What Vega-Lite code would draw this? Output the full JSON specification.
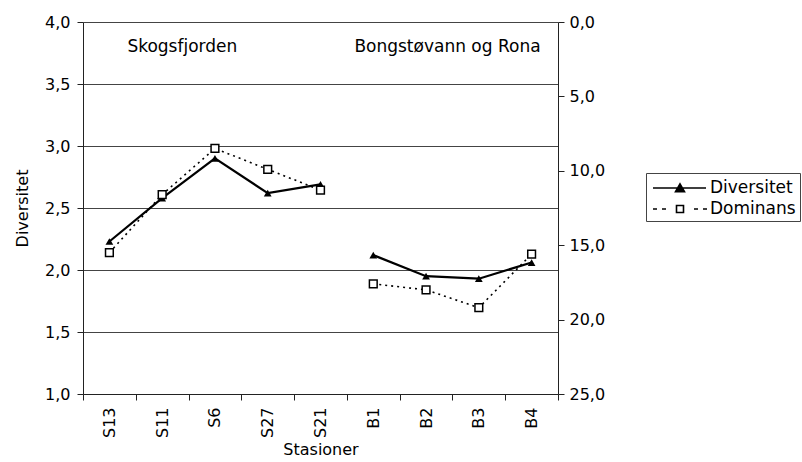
{
  "$schema": "https://vega.github.io/schema/vega-lite/v6.json",
  "width": 475,
  "height": 372,
  "autosize": "none",
  "padding": {"left": 83, "top": 22, "right": 244, "bottom": 68},
  "background": "white",
  "config": {
    "locale": {"number": {"decimal": ",", "thousands": " ", "grouping": [3], "currency": ["", " kr"]}},
    "font": "DejaVu Sans",
    "view": {"stroke": null},
    "axis": {"labelFont": "DejaVu Sans", "titleFont": "DejaVu Sans", "labelFontSize": 16, "titleFontSize": 16, "labelColor": "black", "titleColor": "black", "domainColor": "#222", "tickColor": "#222", "titleFontWeight": "normal"},
    "legend": {"labelFont": "DejaVu Sans", "labelFontSize": 16}
  },
  "datasets": {
    "series": [
      {"station": "S13", "grp": "S", "serie": "Diversitet", "value": 2.23},
      {"station": "S11", "grp": "S", "serie": "Diversitet", "value": 2.58},
      {"station": "S6", "grp": "S", "serie": "Diversitet", "value": 2.90},
      {"station": "S27", "grp": "S", "serie": "Diversitet", "value": 2.62},
      {"station": "S21", "grp": "S", "serie": "Diversitet", "value": 2.69},
      {"station": "B1", "grp": "B", "serie": "Diversitet", "value": 2.12},
      {"station": "B2", "grp": "B", "serie": "Diversitet", "value": 1.95},
      {"station": "B3", "grp": "B", "serie": "Diversitet", "value": 1.93},
      {"station": "B4", "grp": "B", "serie": "Diversitet", "value": 2.06},
      {"station": "S13", "grp": "S", "serie": "Dominans", "value": 15.5},
      {"station": "S11", "grp": "S", "serie": "Dominans", "value": 11.6},
      {"station": "S6", "grp": "S", "serie": "Dominans", "value": 8.5},
      {"station": "S27", "grp": "S", "serie": "Dominans", "value": 9.9},
      {"station": "S21", "grp": "S", "serie": "Dominans", "value": 11.3},
      {"station": "B1", "grp": "B", "serie": "Dominans", "value": 17.6},
      {"station": "B2", "grp": "B", "serie": "Dominans", "value": 18.0},
      {"station": "B3", "grp": "B", "serie": "Dominans", "value": 19.2},
      {"station": "B4", "grp": "B", "serie": "Dominans", "value": 15.6}
    ],
    "labels": [
      {"station": "S13", "value": 3.8, "text": "Skogsfjorden", "side": "left"},
      {"station": "B4", "value": 3.8, "text": "Bongstøvann og Rona", "side": "right"}
    ]
  },
  "encoding": {
    "x": {
      "field": "station", "type": "nominal", "sort": null,
      "scale": {"type": "band", "paddingInner": 0, "paddingOuter": 0, "domain": ["S13","S11","S6","S27","S21","B1","B2","B3","B4"]},
      "axis": {"title": "Stasioner", "labelAngle": -90, "tickBand": "extent", "tickSize": 6, "labelPadding": 7, "titlePadding": 4, "grid": false}
    }
  },
  "layer": [
    {
      "data": {"name": "series"},
      "transform": [{"filter": "datum.serie === 'Diversitet'"}],
      "encoding": {
        "y": {
          "field": "value", "type": "quantitative",
          "scale": {"domain": [1, 4], "nice": false, "zero": false},
          "axis": {"title": "Diversitet", "orient": "left", "values": [1, 1.5, 2, 2.5, 3, 3.5, 4], "format": ".1f", "grid": true, "gridColor": "#444", "gridWidth": 1, "gridOpacity": 1, "tickSize": 6, "labelPadding": 7, "titlePadding": 14}
        }
      },
      "layer": [
        {"mark": {"type": "line", "color": "black", "strokeWidth": 2.2}, "encoding": {"detail": {"field": "grp"}}},
        {"mark": {"type": "point", "shape": "triangle-up", "filled": true, "color": "black", "size": 60, "opacity": 1}},
        {
          "mark": {"type": "point", "opacity": 0, "size": 60, "filled": true, "strokeWidth": 1.6},
          "encoding": {
            "shape": {
              "field": "serie", "type": "nominal",
              "scale": {"domain": ["Diversitet", "Dominans"], "range": ["M-0.8,0H4.5M1.9,-0.42L2.35,0.38H1.45Z", "M-0.8,0H-0.4M0.1,0H0.5M1.55,-0.35H2.25V0.35H1.55ZM3.3,0H3.7M4.2,0H4.6"]},
              "legend": {"title": null, "orient": "none", "legendX": 563, "legendY": 151, "symbolSize": 400, "symbolOpacity": 1, "symbolStrokeWidth": 1.6, "labelOffset": 38, "strokeColor": "#444", "padding": 4, "rowPadding": 2, "labelFontSize": 17}
            },
            "fill": {
              "field": "serie", "type": "nominal",
              "scale": {"domain": ["Diversitet", "Dominans"], "range": ["black", "white"]},
              "legend": {"title": null, "orient": "none", "legendX": 563, "legendY": 151, "symbolSize": 400, "symbolOpacity": 1, "symbolStrokeWidth": 1.6, "labelOffset": 38, "strokeColor": "#444", "padding": 4, "rowPadding": 2, "labelFontSize": 17}
            },
            "stroke": {
              "field": "serie", "type": "nominal",
              "scale": {"domain": ["Diversitet", "Dominans"], "range": ["black", "black"]},
              "legend": {"title": null, "orient": "none", "legendX": 563, "legendY": 151, "symbolSize": 400, "symbolOpacity": 1, "symbolStrokeWidth": 1.6, "labelOffset": 38, "strokeColor": "#444", "padding": 4, "rowPadding": 2, "labelFontSize": 17}
            }
          }
        },
        {
          "data": {"name": "labels"},
          "transform": [{"filter": "datum.side === 'left'"}],
          "mark": {"type": "text", "align": "left", "dx": 18, "fontSize": 17, "color": "black", "baseline": "middle"},
          "encoding": {"text": {"field": "text"}}
        },
        {
          "data": {"name": "labels"},
          "transform": [{"filter": "datum.side === 'right'"}],
          "mark": {"type": "text", "align": "right", "dx": 9, "fontSize": 17, "color": "black", "baseline": "middle"},
          "encoding": {"text": {"field": "text"}}
        }
      ]
    },
    {
      "data": {"name": "series"},
      "transform": [{"filter": "datum.serie === 'Dominans'"}],
      "encoding": {
        "y": {
          "field": "value", "type": "quantitative",
          "scale": {"domain": [0, 25], "nice": false, "reverse": true},
          "axis": {"title": null, "orient": "right", "values": [0, 5, 10, 15, 20, 25], "format": ".1f", "grid": false, "tickSize": 6, "labelPadding": 5}
        }
      },
      "layer": [
        {"mark": {"type": "line", "color": "black", "strokeWidth": 1.6, "strokeDash": [2, 4]}, "encoding": {"detail": {"field": "grp"}}},
        {"mark": {"type": "point", "shape": "square", "filled": true, "fill": "white", "stroke": "black", "strokeWidth": 1.5, "size": 60, "opacity": 1}}
      ]
    }
  ],
  "resolve": {"scale": {"y": "independent"}}
}
